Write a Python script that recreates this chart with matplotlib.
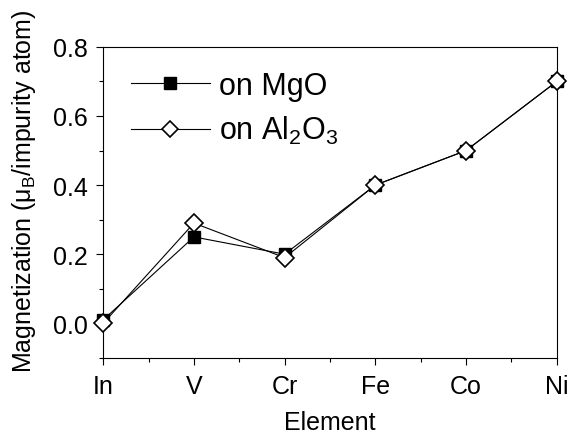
import matplotlib
matplotlib.use("Agg")
import matplotlib.pyplot as plt
from matplotlib.ticker import MultipleLocator

plt.rcParams['font.family'] = ['Liberation Sans', 'DejaVu Sans']
plt.rcParams['mathtext.fontset'] = 'custom'
plt.rcParams['mathtext.rm'] = 'Liberation Sans'
plt.rcParams['mathtext.it'] = 'Liberation Sans'

elements = ["In", "V", "Cr", "Fe", "Co", "Ni"]
mag_mgo = [0.01, 0.25, 0.20, 0.40, 0.50, 0.70]
mag_al2o3 = [0.00, 0.29, 0.19, 0.40, 0.50, 0.70]

fig = plt.figure(figsize=(5.67, 4.35), dpi=100)
ax = fig.add_axes([0.182, 0.175, 0.800, 0.715])

x = list(range(len(elements)))
ax.plot(x, mag_mgo, color="black", lw=0.8, marker="s", ms=9,
        mfc="black", mec="black", label="on MgO", clip_on=False, zorder=3)
ax.plot(x, mag_al2o3, color="black", lw=0.8, marker="D", ms=9,
        mfc="white", mec="black", mew=1.2, label="on Al$_2$O$_3$",
        clip_on=False, zorder=4)

ax.set_xlim(0, 5)
ax.set_ylim(-0.1, 0.8)
ax.set_xticks(x)
ax.set_xticklabels(elements)
ax.xaxis.set_minor_locator(MultipleLocator(0.5))
ax.yaxis.set_major_locator(MultipleLocator(0.2))
ax.yaxis.set_minor_locator(MultipleLocator(0.1))
ax.yaxis.set_major_formatter(plt.FormatStrFormatter("%.1f"))
ax.tick_params(which="major", length=5, width=0.8, labelsize=18, direction="out")
ax.tick_params(axis="y", pad=6)
ax.tick_params(axis="x", pad=6.5)
ax.tick_params(which="minor", length=3, width=0.8, direction="out")
for s in ax.spines.values():
    s.set_linewidth(0.8)

ax.set_xlabel("Element", fontsize=18, labelpad=9)
ax.set_ylabel("Magnetization ($\\mu_B$/impurity atom)", fontsize=18, labelpad=11)
ax.yaxis.label.set_y(0.54)

ax.legend(loc="upper left", frameon=False, fontsize=22, handlelength=2.6,
          bbox_to_anchor=(0.0, 1.012), labelspacing=0.45, handletextpad=0.3,
          markerscale=0.9)

fig.savefig("out.png", dpi=100)
